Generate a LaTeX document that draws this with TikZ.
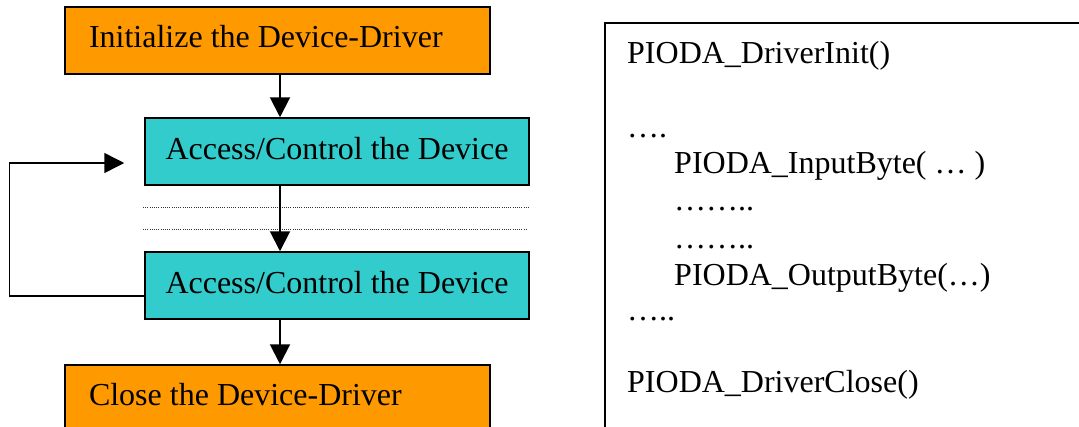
\documentclass[tikz,border=0pt]{standalone}
\usepackage{fontspec}
\setmainfont{Liberation Serif}
\usetikzlibrary{arrows.meta,calc}
\definecolor{boxorange}{HTML}{FF9900}
\definecolor{boxcyan}{HTML}{33CCCC}
\tikzset{
  orangebox/.style={draw=black, line width=1.5pt, fill=boxorange, minimum width=425pt, minimum height=67pt,
    text width=377pt, align=flush left, inner xsep=24pt, text height=22pt, text depth=9pt, font=\fontsize{32}{37}\selectfont},
  cyanbox/.style={draw=black, line width=1.5pt, fill=boxcyan, minimum width=384pt, minimum height=67pt,
    align=center, text height=22pt, text depth=7pt, font=\fontsize{32}{37}\selectfont},
  conn/.style={line width=2pt, -{Triangle[length=20pt,width=20pt]}},
  loopline/.style={line width=1.5pt, -{Triangle[length=20pt,width=20pt]}},
  dotline/.style={line width=0.8pt, black!80, dash pattern=on 1pt off 1.2pt},
  codetext/.style={anchor=base west, inner sep=0pt, font=\fontsize{32}{37}\selectfont},
  panel/.style={draw=black, line width=1.5pt}
}
\begin{document}
\begin{tikzpicture}[x=1pt,y=-1pt]
\useasboundingbox (0,0) rectangle (1079,426);
% flowchart boxes
\node[orangebox] (init) at (277.5,40.5) {Initialize the Device-Driver};
\node[cyanbox] (acc1) at (337,151.5) {Access/Control the Device};
\node[cyanbox] (acc2) at (337,285.5) {Access/Control the Device};
\node[orangebox] (close) at (277.5,398.5) {Close the Device-Driver};
% dotted separators
\draw[dotline] (143,207) -- (529,207);
\draw[dotline] (143,229) -- (526,229);
% connectors
\draw[conn] ([xshift=2.5pt]init.south) coordinate (c1) -- (c1 |- acc1.north);
\draw[conn] ([xshift=-57pt]acc1.south) coordinate (c2) -- (c2 |- acc2.north);
\draw[conn] ([xshift=-57pt]acc2.south) coordinate (c3) -- (c3 |- close.north);
\coordinate (looptgt) at ([xshift=-20pt,yshift=-11.5pt]acc1.west);
\draw[loopline] ([yshift=-10.5pt]acc2.west) -- ++(-135,0) |- (looptgt);
% code panel
\draw[panel] (1100,23) -- (605,23) -- (605,440);
\node[codetext] (l1) at (627,63) {PIODA\_DriverInit()};
\node[codetext] (l2) at (627,137) {….};
\node[codetext] (l3) at (674,173) {PIODA\_InputByte( … )};
\node[codetext] (l4) at (674,210) {……..};
\node[codetext] (l5) at (674,248) {……..};
\node[codetext] (l6) at (674,285) {PIODA\_OutputByte(…)};
\node[codetext] (l7) at (627,320) {…..};
\node[codetext] (l8) at (627,392) {PIODA\_DriverClose()};
\end{tikzpicture}
\end{document}
